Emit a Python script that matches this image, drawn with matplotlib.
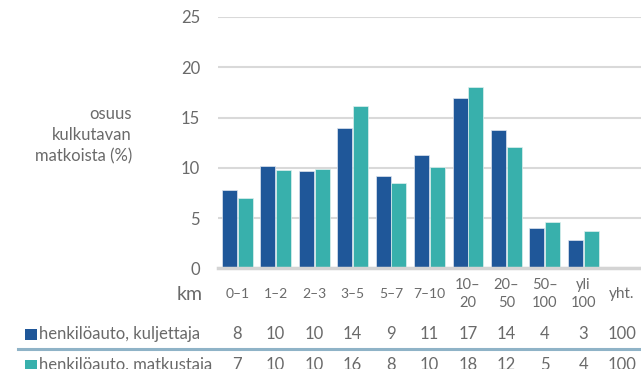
import matplotlib
matplotlib.use("Agg")
from matplotlib import pyplot as plt
from matplotlib import transforms
import numpy as np

plt.rcParams["font.family"] = ["Lato", "DejaVu Sans"]

categories = ["0–1", "1–2", "2–3", "3–5", "5–7", "7–10", "10–\n20", "20–\n50", "50–\n100", "yli\n100", "yht."]
kuljettaja = [7.75, 10.2, 9.7, 14.0, 9.2, 11.3, 16.95, 13.8, 4.0, 2.8]
matkustaja = [6.95, 9.75, 9.85, 16.15, 8.45, 10.05, 18.0, 12.1, 4.65, 3.75]
kuljettaja_tab = ["8", "10", "10", "14", "9", "11", "17", "14", "4", "3", "100"]
matkustaja_tab = ["7", "10", "10", "16", "8", "10", "18", "12", "5", "4", "100"]
series_names = ["henkilöauto, kuljettaja", "henkilöauto, matkustaja"]

dark = "#1f5799"
teal = "#38b0ac"
grey = "#6a6a6a"

W, H = 641, 369
fig = plt.figure(figsize=(W / 100, H / 100), dpi=100)
ax = fig.add_axes([218 / W, (H - 268.3) / H, 423 / W, 251.3 / H])

x = np.arange(len(kuljettaja))
bw = 0.39
ax.bar(x - 0.205, kuljettaja, bw, color=dark, edgecolor="#dfe6f0", linewidth=0.5, zorder=3)
ax.bar(x + 0.205, matkustaja, bw, color=teal, edgecolor="#dff0ee", linewidth=0.5, zorder=3)

ax.set_xlim(-0.5, len(categories) - 0.5)
ax.set_ylim(0, 25)
ax.set_yticks([0, 5, 10, 15, 20, 25])
ax.set_xticks([])
ax.tick_params(axis="y", length=0, pad=13, labelsize=12, labelcolor=grey)
ax.grid(axis="y", color="#d9d9d9", linewidth=1.5, zorder=0)
for s in ["top", "right", "left"]:
    ax.spines[s].set_visible(False)
ax.spines["bottom"].set_color("#d4d4d4")
ax.spines["bottom"].set_linewidth(2.5)
ax.spines["bottom"].set_zorder(4)

fig.text(132 / W, 1 - 135 / H, "osuus\nkulkutavan\nmatkoista (%)", ha="right", va="center",
         fontsize=12, color=grey, linespacing=1.4)

# table below the axis
tr = transforms.blended_transform_factory(ax.transData, fig.transFigure)
def fy(py):
    return 1 - py / H

fig.text(203 / W, fy(295), "km", ha="right", va="center", fontsize=14, color=grey)
for i, c in enumerate(categories):
    if "\n" in c:
        top, bot = c.split("\n")
        ax.text(i, fy(285), top, transform=tr, ha="center", va="center", fontsize=10.5, color=grey)
        ax.text(i, fy(303), bot, transform=tr, ha="center", va="center", fontsize=10.5, color=grey)
    else:
        size = 11 if c == "yht." else 10
        ax.text(i, fy(294), c, transform=tr, ha="center", va="center", fontsize=size, color=grey)

rows = [(kuljettaja_tab, dark, 334), (matkustaja_tab, teal, 365)]
for (vals, col, py), name in zip(rows, series_names):
    fig.patches.append(plt.Rectangle((25 / W, fy(py + 6)), 12 / W, 11 / H, transform=fig.transFigure,
                                     facecolor=col, edgecolor="none"))
    fig.text(39 / W, fy(py), name, ha="left", va="center", fontsize=12, color=grey)
    for i, v in enumerate(vals):
        ax.text(i, fy(py), v, transform=tr, ha="center", va="center", fontsize=12, color=grey)

fig.add_artist(plt.Line2D([18 / W, 1], [fy(349), fy(349)], transform=fig.transFigure,
                          color="#8fb3c7", linewidth=2.2))

fig.savefig("out.png", dpi=100)
